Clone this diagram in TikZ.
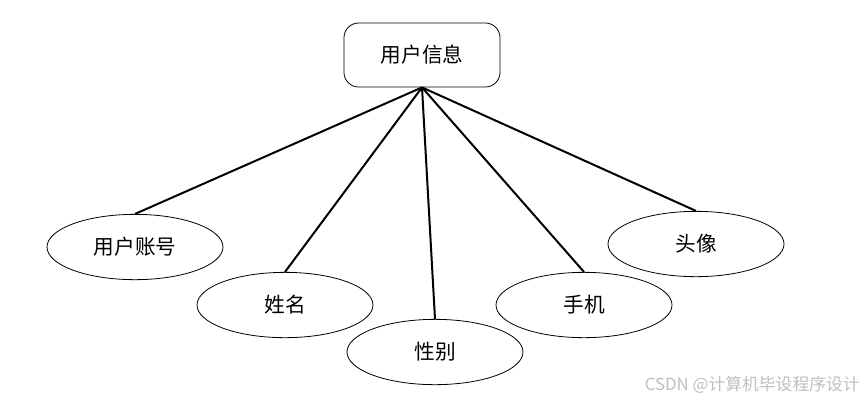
\documentclass[tikz,border=0pt]{standalone}
\usepackage{fontspec}
\newfontfamily\cjk{Noto Sans CJK SC}
\usetikzlibrary{shapes.geometric}
\begin{document}
\begin{tikzpicture}[x=0.75pt,y=-0.75pt,
  entity/.style={draw,rounded corners=11pt,line width=0.6pt,minimum width=117pt,minimum height=48pt,inner sep=0pt,font=\cjk\fontsize{15.5}{18}\selectfont},
  attr/.style={draw,ellipse,line width=0.6pt,minimum width=132pt,minimum height=49pt,inner sep=0pt,font=\cjk\fontsize{15.5}{18}\selectfont},
  link/.style={line width=1.5pt}]
\useasboundingbox (0,0) rectangle (864,401);
\node[entity] (info) at (422,55) {用户信息};
\node[attr] (acc) at (135,247) {用户账号};
\node[attr] (name) at (285,305) {姓名};
\node[attr] (sex) at (435,352) {性别};
\node[attr] (phone) at (584,305) {手机};
\node[attr] (avatar) at (696,244) {头像};
\draw[link] (info.south) -- (acc.north);
\draw[link] (info.south) -- (name.north);
\draw[link] (info.south) -- (sex.north);
\draw[link] (info.south) -- (phone.north);
\draw[link] (info.south) -- (avatar.north);
\node[anchor=east,text=black!25,inner sep=0pt,font=\cjk\fontsize{12.6}{14}\selectfont] (wm) at (860,385) {CSDN @计算机毕设程序设计};
\end{tikzpicture}
\end{document}
